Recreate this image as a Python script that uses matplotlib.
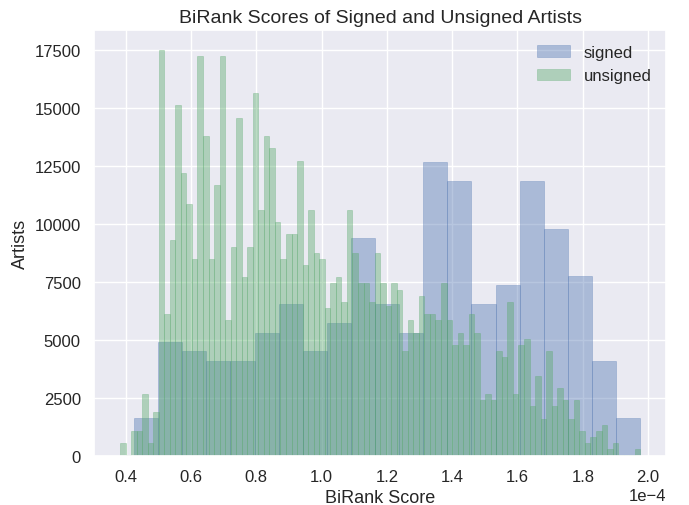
import numpy as np
import matplotlib
matplotlib.use("Agg")
import matplotlib.pyplot as plt
import seaborn as sns

# Histogram counts per bin (artists per BiRank-score bin)
signed_counts = [1625, 4900, 4513, 4080, 4080, 5290, 6530, 4513, 5720, 9385,
                 6530, 5290, 12660, 11842, 6530, 7358, 11842, 9773, 7747, 4082,
                 1625]
unsigned_counts = [546, 30, 1063, 1063, 2658, 546, 1882, 17489, 6107, 9297,
                   15117, 12186, 10849, 8478, 17230, 13781, 8478, 11683, 17230, 5849,
                   8996, 14557, 7702, 8996, 15635, 10591, 13781, 13264, 10074, 8478,
                   9556, 9556, 12703, 8220, 10591, 8737, 8478, 6366, 7444, 7702,
                   6625, 10591, 8737, 7444, 7444, 6625, 8737, 7444, 6450, 7444,
                   7142, 4512, 5849, 5288, 6883, 6107, 6107, 5849, 7444, 5849,
                   4771, 5288, 4771, 6107, 5288, 2400, 2658, 2400, 4512, 4254,
                   6625, 2658, 4771, 5030, 2141, 3434, 1581, 4512, 2141, 2917,
                   2400, 1581, 2400, 1063, 546, 805, 1063, 1322, 287, 546,
                   30, 30, 30, 287]

# Score range covered by each histogram
signed_range = (0.4254e-4, 1.976e-4)
unsigned_range = (0.3825e-4, 1.976e-4)

sns.set_theme(style="darkgrid")
plt.rcParams["font.family"] = ["Liberation Sans", "DejaVu Sans"]
signed_color = "#4C72B0"
unsigned_color = "#55A868"

fig, ax = plt.subplots(figsize=(6.89, 5.06), dpi=100)
fig.subplots_adjust(left=0.1364, right=0.967, top=0.9387, bottom=0.0974)

signed_edges = np.linspace(signed_range[0], signed_range[1], len(signed_counts) + 1)
unsigned_edges = np.linspace(unsigned_range[0], unsigned_range[1], len(unsigned_counts) + 1)
signed_centers = (signed_edges[:-1] + signed_edges[1:]) / 2
unsigned_centers = (unsigned_edges[:-1] + unsigned_edges[1:]) / 2

ax.hist(signed_centers, bins=signed_edges, weights=signed_counts,
        alpha=0.4, color=signed_color, edgecolor=signed_color,
        linewidth=0.5, label="signed")
ax.hist(unsigned_centers, bins=unsigned_edges, weights=unsigned_counts,
        alpha=0.4, color=unsigned_color, edgecolor=unsigned_color,
        linewidth=0.5, label="unsigned")

ax.ticklabel_format(axis="x", style="sci", scilimits=(0, 0))
ax.set_title("BiRank Scores of Signed and Unsigned Artists", fontsize=14)
ax.set_xlabel("BiRank Score", fontsize=13)
ax.set_ylabel("Artists", fontsize=13)
ax.tick_params(labelsize=12)
ax.xaxis.get_offset_text().set_fontsize(12)
ax.legend(loc="upper right", fontsize=12, frameon=False)

fig.savefig("out.png", dpi=100)
